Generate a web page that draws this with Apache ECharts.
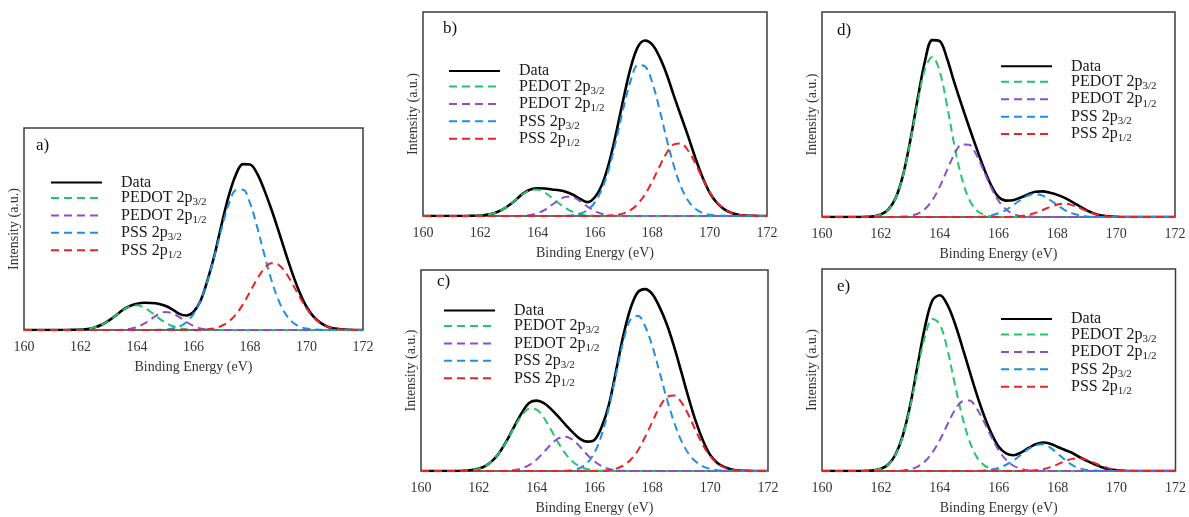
<!DOCTYPE html>
<html>
<head>
<meta charset="utf-8">
<script src="https://cdn.jsdelivr.net/npm/echarts@6/dist/echarts.min.js"></script>
<style>
html,body{margin:0;padding:0;background:#fff;}
#chart{width:1189px;height:517px;}
</style>
</head>
<body>
<div id="chart"></div>
<script>
// Binding energy grid (eV)
const energy = [
160.00,160.25,160.50,160.75,161.00,161.25,161.50,161.75,162.00,162.25,162.50,162.75,
163.00,163.25,163.50,163.75,164.00,164.25,164.50,164.75,165.00,165.25,165.50,165.75,
166.00,166.25,166.50,166.75,167.00,167.25,167.50,167.75,168.00,168.25,168.50,168.75,
169.00,169.25,169.50,169.75,170.00,170.25,170.50,170.75,171.00,171.25,171.50,171.75,172.00];
const xTicks = [160,162,164,166,168,170,172];
const seriesNames = ['Data','PEDOT 2p3/2','PEDOT 2p1/2','PSS 2p3/2','PSS 2p1/2'];
const panelLabels = ['a)','b)','c)','d)','e)'];

// Panel a (intensity, % of plot height)
const aData   = [0,0,0,0, 0,0,0,0.1, 0.2,0.5,1.3,2.6, 4.6,7.2,10.0,11.9, 13.0,13.5,13.4,13.0, 12.0,10.2,8.0,7.2, 9.0,14.5,24.8,37.5, 52.6,66.5,76.9,82.1, 81.9,77.5,69.5,60.0, 49.5,38.5,28.0,18.8, 11.5,6.6,3.5,1.6, 0.7,0.3,0.1,0, 0];
const aGreen  = [0,0,0,0, 0,0,0,0.1, 0.2,0.5,1.3,2.6, 4.6,7.2,9.8,11.7, 12.2,11.1,8.8,6.1, 3.7,2.0,0.9,0.4, 0.1,0,0,0, 0,0,0,0, 0,0,0,0, 0,0,0,0, 0,0,0,0, 0,0,0,0, 0];
const aPurple = [0,0,0,0, 0,0,0,0, 0,0,0,0, 0,0,0.2,0.6, 1.4,3.1,5.4,7.7, 8.9,8.3,6.4,4.0, 2.0,0.8,0.3,0.1, 0,0,0,0, 0,0,0,0, 0,0,0,0, 0,0,0,0, 0,0,0,0, 0];
const aBlue   = [0,0,0,0, 0,0,0,0, 0,0,0,0, 0,0,0,0, 0,0,0,0.1, 0.2,0.7,1.7,3.9, 7.9,14.7,24.5,37.0, 50.5,62.3,69.2,69.4, 62.8,51.2,37.7,25.1, 15.0,8.1,3.9,1.7, 0.7,0.3,0.1,0, 0,0,0,0, 0];
const aRed    = [0,0,0,0, 0,0,0,0, 0,0,0,0, 0,0,0,0, 0,0,0,0, 0,0,0,0, 0,0.1,0.4,0.9, 2.1,4.2,7.7,12.7, 18.9,25.2,30.3,33.0, 32.4,28.7,22.9,16.6, 10.8,6.3,3.4,1.6, 0.7,0.3,0.1,0, 0];

// Panel b
const bData   = [0,0,0,0, 0,0,0,0.1, 0.2,0.7,1.5,3.0, 5.3,8.1,11.1,13.0, 13.6,13.5,13.0,12.6, 11.8,10.3,8.2,6.8, 9.3,15.5,26.5,41.5, 58.0,73.0,83.0,86.0, 84.0,78.0,69.5,59.0, 49.0,39.0,28.5,19.0, 11.5,6.5,3.4,1.6, 0.6,0.2,0.1,0, 0];
const bGreen  = [0,0,0,0, 0,0,0,0.1, 0.2,0.7,1.5,3.0, 5.3,8.1,10.9,12.6, 12.9,11.5,8.9,6.1, 3.6,1.9,0.8,0.3, 0.1,0,0,0, 0,0,0,0, 0,0,0,0, 0,0,0,0, 0,0,0,0, 0,0,0,0, 0];
const bPurple = [0,0,0,0, 0,0,0,0, 0,0,0,0, 0,0,0.2,0.5, 1.4,3.0,5.5,7.9, 9.4,9.1,7.1,4.5, 2.4,1.0,0.3,0.1, 0,0,0,0, 0,0,0,0, 0,0,0,0, 0,0,0,0, 0,0,0,0, 0];
const bBlue   = [0,0,0,0, 0,0,0,0, 0,0,0,0, 0,0,0,0, 0,0,0,0, 0.1,0.4,1.2,3.0, 6.8,13.5,23.9,38.1, 53.3,66.6,74.0,73.3, 65.3,52.3,37.7,24.6, 14.3,7.5,3.5,1.5, 0.6,0.2,0.1,0, 0,0,0,0, 0];
const bRed    = [0,0,0,0, 0,0,0,0, 0,0,0,0, 0,0,0,0, 0,0,0,0, 0,0,0,0, 0,0,0.2,0.5, 1.3,3.0,6.0,10.7, 17.0,24.3,30.9,35.1, 35.5,32.0,25.8,18.5, 11.8,6.8,3.5,1.6, 0.6,0.2,0.1,0, 0];

// Panel c
const cData   = [0,0,0,0, 0,0,0.2,0.5, 1.2,2.7,5.5,10.0, 16.0,22.8,29.3,34.0, 35.0,33.8,30.8,27.0, 23.0,19.2,16.0,14.6, 15.5,22.0,33.1,50.1, 67.6,81.1,89.0,90.5, 88.0,81.5,73.0,62.0, 49.4,36.6,24.8,15.2, 8.0,4.0,1.9,0.8, 0.2,0.1,0,0, 0];
const cGreen  = [0,0,0,0, 0,0,0.2,0.5, 1.2,2.7,5.5,10.0, 15.8,22.3,27.9,31.0, 30.5,26.5,20.4,14.0, 8.5,4.6,2.2,0.9, 0.3,0.1,0,0, 0,0,0,0, 0,0,0,0, 0,0,0,0, 0,0,0,0, 0,0,0,0, 0];
const cPurple = [0,0,0,0, 0,0,0,0, 0,0,0,0, 0.2,0.5,1.4,3.0, 5.7,9.4,13.3,16.2, 17.1,15.5,12.1,8.1, 4.8,2.4,1.0,0.4, 0.1,0,0,0, 0,0,0,0, 0,0,0,0, 0,0,0,0, 0,0,0,0, 0];
const cBlue   = [0,0,0,0, 0,0,0,0, 0,0,0,0, 0,0,0,0, 0,0,0,0, 0.1,0.5,1.5,4.0, 9.1,18.1,31.7,48.5, 64.8,75.5,77.2,72.0, 62.1,49.2,35.9,24.4, 15.1,8.7,4.7,2.3, 1.0,0.4,0.2,0.1, 0,0,0,0, 0];
const cRed    = [0,0,0,0, 0,0,0,0, 0,0,0,0, 0,0,0,0, 0,0,0,0, 0,0,0,0, 0,0.1,0.4,1.2, 2.7,5.6,10.2,16.9, 24.5,31.8,36.7,37.6, 34.3,27.9,20.1,12.9, 7.4,3.7,1.7,0.7, 0.2,0.1,0,0, 0];

// Panel d
const dData   = [0,0,0,0, 0,0,0.1,0.3, 1.2,3.6,9.1,20.2, 37.2,57.4,76.0,86.3, 85.8,77.3,65.5,54.5, 43.9,33.7,23.9,15.5, 9.8,8.0,8.2,9.5, 11.0,12.3,12.5,11.8, 10.8,9.3,7.4,5.3, 3.2,1.7,0.7,0.3, 0.1,0,0,0, 0,0,0,0, 0];
const dGreen  = [0,0,0,0, 0,0,0.1,0.3, 1.2,3.6,9.1,20.0, 36.6,55.8,72.1,78.1, 71.1,54.4,34.9,19.1, 8.6,3.3,1.1,0.3, 0.1,0,0,0, 0,0,0,0, 0,0,0,0, 0,0,0,0, 0,0,0,0, 0,0,0,0, 0];
const dPurple = [0,0,0,0, 0,0,0,0, 0,0,0,0.2, 0.6,1.6,3.9,8.2, 14.7,22.9,30.6,35.4, 35.3,30.3,22.5,14.4, 7.9,3.8,1.5,0.5, 0.2,0.1,0,0, 0,0,0,0, 0,0,0,0, 0,0,0,0, 0,0,0,0, 0];
const dBlue   = [0,0,0,0, 0,0,0,0, 0,0,0,0, 0,0,0,0, 0,0,0,0, 0,0.1,0.3,0.8, 1.8,3.4,5.8,8.3, 10.4,11.2,10.4,8.3, 5.8,3.4,1.8,0.8, 0.3,0.1,0,0, 0,0,0,0, 0,0,0,0, 0];
const dRed    = [0,0,0,0, 0,0,0,0, 0,0,0,0, 0,0,0,0, 0,0,0,0, 0,0,0,0, 0,0,0.1,0.4, 1.0,2.0,3.4,4.9, 6.1,6.5,5.8,4.5, 2.9,1.6,0.7,0.3, 0.1,0,0,0, 0,0,0,0, 0];

// Panel e
const eData   = [0,0,0,0, 0,0,0.1,0.3, 1.1,3.2,8.3,17.9, 33.0,52.7,71.6,84.5, 87.0,82.5,73.5,62.0, 49.9,38.1,27.5,18.6, 12.0,8.7,7.8,9.1, 11.3,13.2,14.1,13.5, 11.9,10.4,8.9,6.8, 5.0,3.3,1.9,0.9, 0.4,0.1,0,0, 0,0,0,0, 0];
const eGreen  = [0,0,0,0, 0,0,0.1,0.3, 1.1,3.2,8.2,17.6, 32.1,50.5,66.8,75.3, 72.6,60.6,43.6,27.6, 15.0,7.0,2.9,1.0, 0.3,0.1,0,0, 0,0,0,0, 0,0,0,0, 0,0,0,0, 0,0,0,0, 0,0,0,0, 0];
const ePurple = [0,0,0,0, 0,0,0,0, 0,0,0.1,0.3, 0.9,2.2,4.8,9.2, 15.3,22.8,29.9,34.4, 34.9,31.0,24.3,16.9, 10.2,5.5,2.6,1.1, 0.4,0.1,0,0, 0,0,0,0, 0,0,0,0, 0,0,0,0, 0,0,0,0, 0];
const eBlue   = [0,0,0,0, 0,0,0,0, 0,0,0,0, 0,0,0,0, 0,0,0,0, 0,0.1,0.3,0.7, 1.5,3.1,5.2,8.0, 10.8,12.7,13.2,11.6, 8.6,5.5,2.9,1.3, 0.5,0.2,0.1,0, 0,0,0,0, 0,0,0,0, 0];
const eRed    = [0,0,0,0, 0,0,0,0, 0,0,0,0, 0,0,0,0, 0,0,0,0, 0,0,0,0, 0,0,0,0, 0.1,0.4,0.9,1.9, 3.3,4.9,6.0,6.3, 5.5,4.0,2.5,1.3, 0.6,0.2,0.1,0, 0,0,0,0, 0];

const panelData = [
  [aData,aGreen,aPurple,aBlue,aRed],
  [bData,bGreen,bPurple,bBlue,bRed],
  [cData,cGreen,cPurple,cBlue,cRed],
  [dData,dGreen,dPurple,dBlue,dRed],
  [eData,eGreen,ePurple,eBlue,eRed]
];

// ---------- layout & style ----------
const FONT = "'Liberation Serif','Times New Roman',Times,serif";
const layout = [
  {grid:{left:24, top:128, width:339, height:202}, legend:{left:50,  top:174.5}, label:{left:36,  top:137}},
  {grid:{left:423,top:12,  width:344, height:204}, legend:{left:448, top:63},    label:{left:443, top:20.5}},
  {grid:{left:421,top:270, width:347, height:201}, legend:{left:443, top:302.5}, label:{left:437, top:273.5}},
  {grid:{left:822,top:12,  width:353, height:205}, legend:{left:1000,top:58.3},  label:{left:837, top:22}},
  {grid:{left:822,top:269, width:357, height:202}, legend:{left:1000,top:311},   label:{left:837, top:278.5}}
];
const styles = [
  {color:'#000000', width:2.6, type:'solid'},
  {color:'#25c46a', width:2, type:[8,5]},
  {color:'#8c4fcc', width:2, type:[8,5]},
  {color:'#1f8fe0', width:2, type:[8,5]},
  {color:'#e82428', width:2, type:[8,5]}
];
const richName = {
  'Data': '{g|}{n|Data}',
  'PEDOT 2p3/2': '{g|}{n|PEDOT 2p}{s|3/2}',
  'PEDOT 2p1/2': '{g|}{n|PEDOT 2p}{s|1/2}',
  'PSS 2p3/2': '{g|}{n|PSS 2p}{s|3/2}',
  'PSS 2p1/2': '{g|}{n|PSS 2p}{s|1/2}'
};

const grids=[], xAxes=[], yAxes=[], series=[], legends=[], titles=[];
layout.forEach((L, p) => {
  grids.push(Object.assign({show:true, borderColor:'#3c3c3c', borderWidth:1.5, containLabel:false}, L.grid));
  xAxes.push({
    type:'value', gridIndex:p, min:160, max:172, interval:2,
    axisLine:{show:false}, axisTick:{show:false}, splitLine:{show:false},
    axisLabel:{show:true, margin:10, fontSize:14, fontFamily:FONT, color:'#333',
      formatter: v => (xTicks.indexOf(v) >= 0 ? String(v) : '')},
    name:'Binding Energy (eV)', nameLocation:'middle', nameGap:30,
    nameTextStyle:{fontSize:14, fontFamily:FONT, color:'#333'}
  });
  yAxes.push({
    type:'value', gridIndex:p, min:0, max:100,
    axisLine:{show:false}, axisTick:{show:false}, axisLabel:{show:false}, splitLine:{show:false},
    name:'Intensity (a.u.)', nameLocation:'middle', nameGap:3,
    nameTextStyle:{fontSize:14, fontFamily:FONT, color:'#333'}
  });
  panelData[p].forEach((vals, k) => {
    series.push({
      type:'line', name:seriesNames[k], xAxisIndex:p, yAxisIndex:p,
      data: energy.map((e,i) => [e, vals[i]]),
      symbol:'none', smooth:0.35, z: 2 + k,
      lineStyle:{color:styles[k].color, width:styles[k].width, type:styles[k].type},
      itemStyle:{color:styles[k].color}
    });
  });
  legends.push({
    orient:'vertical', left:L.legend.left, top:L.legend.top,
    itemWidth:51, itemHeight:10, itemGap:-0.55, padding:0,
    selectedMode:false, data:seriesNames.slice(),
    itemStyle:{opacity:0, borderWidth:0},
    formatter: name => richName[name],
    textStyle:{
      fontFamily:FONT, fontSize:16, color:'#1a1a1a',
      rich:{
        g:{width:14},
        n:{fontFamily:FONT, fontSize:16, color:'#1a1a1a', lineHeight:20},
        s:{fontFamily:FONT, fontSize:11, color:'#1a1a1a', lineHeight:12, verticalAlign:'bottom'}
      }
    }
  });
  titles.push({
    text:panelLabels[p], left:L.label.left, top:L.label.top, padding:0,
    textStyle:{fontFamily:FONT, fontSize:17, fontWeight:'normal', color:'#111'}
  });
});

const chart = echarts.init(document.getElementById('chart'), null, {renderer:'canvas'});
chart.setOption({
  animation:false,
  backgroundColor:'#ffffff',
  title:titles, grid:grids, xAxis:xAxes, yAxis:yAxes, legend:legends, series:series
});
</script>
</body>
</html>
